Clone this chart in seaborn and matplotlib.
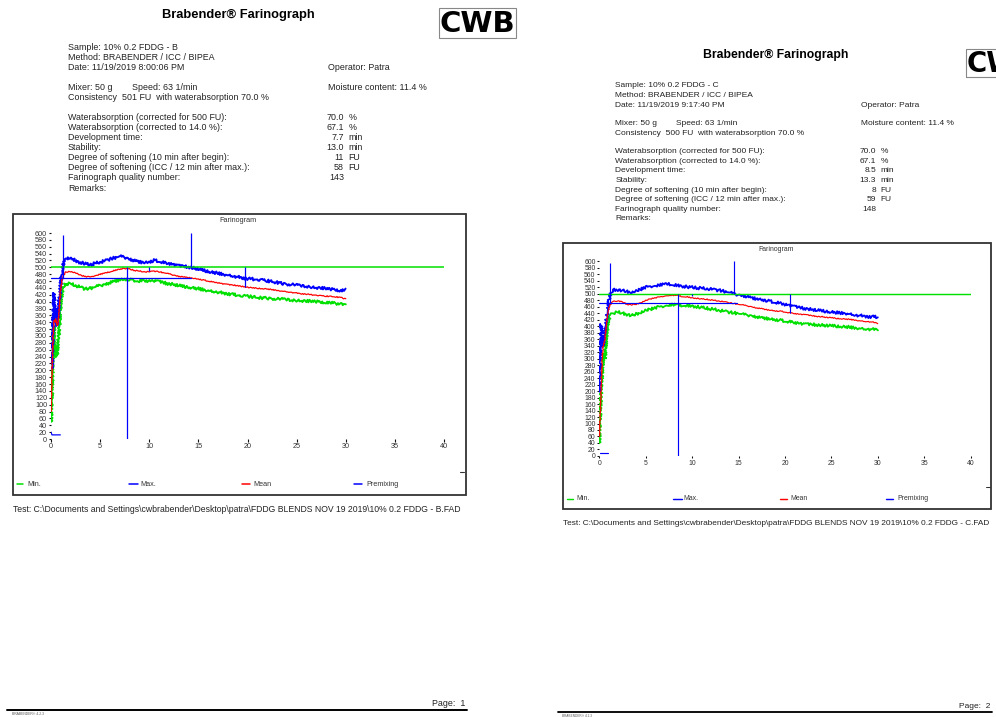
import matplotlib
matplotlib.use("Agg")
import matplotlib.pyplot as plt
import seaborn as sns
from matplotlib.patches import Rectangle
from matplotlib.lines import Line2D

sns.set_theme(style="white")
plt.rcParams['font.family'] = ['Liberation Sans', 'DejaVu Sans']

# ---------------------------------------------------------------- data
TIME = [0.0, 0.1, 0.2, 0.3, 0.4, 0.5, 0.6, 0.7, 0.8, 0.9, 1.0, 1.1, 1.2, 1.35, 1.5,
        2.0, 2.5, 3.0, 3.5, 4.0, 4.5, 5.0, 5.5, 6.0, 6.5, 7.0, 7.5, 8.0, 8.5, 9.0, 9.5,
        10.0, 10.5, 11.0, 11.5, 12.0, 12.5, 13.0, 13.5, 14.0, 14.5, 15.0, 15.5, 16.0,
        16.5, 17.0, 17.5, 18.0, 18.5, 19.0, 19.5, 20.0, 20.5, 21.0, 21.5, 22.0, 22.5,
        23.0, 23.5, 24.0, 24.5, 25.0, 25.5, 26.0, 26.5, 27.0, 27.5, 28.0, 28.5, 29.0,
        29.5, 30.0]

B_MAX = [205, 210, 330, 425, 350, 380, 330, 350, 400, 420, 455, 485, 505, 515, 522,
         530, 518, 514, 511, 507, 512, 515, 519, 524, 528, 532, 529, 524, 520, 516, 514,
         516, 520, 518, 513, 511, 508, 505, 503, 501, 498, 495, 491, 488,
         485, 483, 480, 478, 475, 472, 469, 467, 466, 464, 463, 461, 458,
         456, 453, 451, 450, 448, 446, 445, 443, 441, 440, 438, 436, 435,
         432, 434]
B_MEAN = [80, 190, 300, 345, 340, 350, 330, 335, 370, 410, 440, 460, 472, 480, 486,
          488, 484, 477, 473, 472, 476, 480, 483, 487, 491, 495, 497, 495, 491, 489, 487,
          487, 489, 487, 484, 481, 477, 474, 472, 470, 468, 466, 463, 460,
          457, 455, 452, 450, 448, 447, 444, 442, 440, 439, 438, 437, 435,
          433, 431, 429, 427, 425, 423, 422, 420, 419, 417, 416, 415, 414,
          412, 408]
B_MIN = [50, 130, 250, 330, 240, 270, 240, 280, 300, 350, 395, 425, 438, 448, 452,
         452, 447, 442, 437, 439, 443, 447, 450, 456, 460, 464, 466, 464, 462, 460, 461,
         460, 461, 459, 455, 452, 450, 447, 444, 442, 440, 438, 435, 433,
         430, 428, 425, 423, 421, 419, 417, 416, 414, 412, 411, 410, 409,
         408, 407, 406, 405, 404, 403, 402, 401, 400, 399, 398, 396, 395,
         393, 391]

C_MAX = [198, 300, 407, 380, 336, 360, 387, 410, 428, 450, 474, 490, 500, 508, 512,
         512, 510, 507, 504, 508, 514, 520, 523, 525, 527, 529, 530, 527, 525, 523, 521,
         520, 518, 517, 516, 514, 512, 510, 507, 504, 500, 496, 494, 491,
         487, 484, 482, 479, 476, 473, 470, 467, 464, 461, 458, 455, 453,
         451, 449, 447, 445, 444, 442, 441, 440, 438, 435, 433, 431, 429,
         429, 428]
C_MEAN = [60, 130, 203, 300, 336, 345, 356, 390, 418, 440, 453, 462, 467, 472, 476,
          478, 475, 467, 466, 468, 473, 479, 484, 487, 490, 493, 495, 495, 494, 491, 490,
          487, 486, 484, 483, 481, 479, 477, 475, 472, 470, 467, 465, 462,
          459, 456, 454, 451, 449, 447, 446, 444, 441, 439, 437, 436, 434,
          432, 430, 429, 427, 426, 424, 423, 422, 421, 419, 417, 415, 414,
          412, 409]
C_MIN = [40, 120, 200, 254, 290, 315, 300, 340, 377, 400, 418, 428, 433, 437, 440,
         445, 440, 436, 433, 438, 443, 448, 452, 456, 460, 463, 466, 466, 465, 464, 463,
         462, 460, 458, 456, 453, 451, 448, 446, 443, 441, 439, 436, 434,
         431, 429, 426, 424, 422, 420, 418, 416, 413, 411, 409, 407, 406,
         405, 404, 403, 402, 401, 400, 399, 398, 397, 395, 394, 392, 391,
         390, 391]

PREMIX_T = [[0.0, 0.1, 0.95], [0.05, 0.1, 0.97]]
PREMIX_FU = [[20, 12, 12], [8, 8, 8]]

SAMPLE = ["10% 0.2 FDDG - B", "10% 0.2 FDDG - C"]
DATE = ["11/19/2019 8:00:06 PM", "11/19/2019 9:17:40 PM"]
CONSISTENCY = [501, 500]
WATER_500 = [70.0, 70.0]
WATER_14 = [67.1, 67.1]
DEV_TIME = [7.7, 8.5]
STABILITY = [13.0, 13.3]
ARRIVAL = [1.2, 1.2]
SOFT_10 = [11, 8]
SOFT_ICC = [58, 59]
FQN = [143, 148]
TARGET_FU = 500
FQN_LEVEL = 470
FILES = [r"C:\Documents and Settings\cwbrabender\Desktop\patra\FDDG BLENDS NOV 19 2019\10% 0.2 FDDG - B.FAD",
         r"C:\Documents and Settings\cwbrabender\Desktop\patra\FDDG BLENDS NOV 19 2019\10% 0.2 FDDG - C.FAD"]
X_TICKS = [0, 5, 10, 15, 20, 25, 30, 35, 40]
Y_TICKS = list(range(0, 601, 20))
LEGEND = ["Min.", "Max.", "Mean", "Premixing"]

GREEN, BLUE, RED = "#00e000", "#0000ff", "#ff0000"

# ---------------------------------------------------------------- layout
W, H = 996, 717
fig = plt.figure(figsize=(W / 100, H / 100), dpi=100)
fig.patch.set_facecolor("white")

PAGES = [dict(ox=0.0, oy=0.0, s=1.0), dict(ox=551.1, oy=41.1, s=0.945)]


def fx(p, x):
    return (p["ox"] + p["s"] * x) / W


def fy(p, y):
    return 1 - (p["oy"] + p["s"] * y) / H


def txt(p, x, y, s, size, **kw):
    kw.setdefault("va", "center")
    fig.text(fx(p, x), fy(p, y), s, fontsize=size * p["s"], color=kw.pop("color", "#222222"), **kw)


def seg(p, x0, y0, x1, y1, **kw):
    fig.add_artist(Line2D([fx(p, x0), fx(p, x1)], [fy(p, y0), fy(p, y1)],
                          transform=fig.transFigure, **kw))


def box(p, x0, y0, x1, y1, **kw):
    fig.add_artist(Rectangle((fx(p, x0), fy(p, y1)), fx(p, x1) - fx(p, x0),
                             fy(p, y0) - fy(p, y1), transform=fig.transFigure,
                             fill=False, **kw))


BODY = 6.4
SMALL = 5.2

for i, p in enumerate(PAGES):
    s = p["s"]
    # header
    txt(p, 238, 15, "Brabender\u00ae Farinograph", 9.3, ha="center", weight="bold", color="black")
    box(p, 439, 8, 516, 38, ec="#888888", lw=0.8)
    logo = fig.text(fx(p, 477.5), fy(p, 24), "CWB", fontsize=21 * s, ha="center", va="center",
                    weight="heavy", color="black", family="DejaVu Sans")
    logo.set_clip_on(True)

    txt(p, 68, 47, "Sample: " + SAMPLE[i], BODY)
    txt(p, 68, 57.5, "Method: BRABENDER / ICC / BIPEA", BODY)
    txt(p, 68, 68, "Date: " + DATE[i], BODY)
    txt(p, 328, 68, "Operator: Patra", BODY)
    txt(p, 68, 87, "Mixer: 50 g", BODY)
    txt(p, 132, 87, "Speed: 63 1/min", BODY)
    txt(p, 328, 87, "Moisture content: 11.4 %", BODY)
    txt(p, 68, 97.5, f"Consistency  {CONSISTENCY[i]} FU  with waterabsorption {WATER_500[i]:.1f} %", BODY)

    rows = [("Waterabsorption (corrected for 500 FU):", f"{WATER_500[i]:.1f}", "%"),
            ("Waterabsorption (corrected to 14.0 %):", f"{WATER_14[i]:.1f}", "%"),
            ("Development time:", f"{DEV_TIME[i]:.1f}", "min"),
            ("Stability:", f"{STABILITY[i]:.1f}", "min"),
            ("Degree of softening (10 min after begin):", f"{SOFT_10[i]}", "FU"),
            ("Degree of softening (ICC / 12 min after max.):", f"{SOFT_ICC[i]}", "FU"),
            ("Farinograph quality number:", f"{FQN[i]}", ""),
            ("Remarks:", "", "")]
    for k, (lab, val, unit) in enumerate(rows):
        y = 117 + k * 10.15
        txt(p, 68, y, lab, BODY)
        if val:
            txt(p, 344, y, val, BODY, ha="right")
        if unit:
            txt(p, 348.5, y, unit, BODY)

    # farinogram frame
    box(p, 13, 214, 466, 495, ec="#333333", lw=1.3)
    txt(p, 238, 221, "Farinogram", SMALL, ha="center", color="#333333")

    ax = fig.add_axes([fx(p, 51), fy(p, 439), fx(p, 444) - fx(p, 51), fy(p, 233) - fy(p, 439)])
    ax.patch.set_alpha(0)
    for sp in ax.spines.values():
        sp.set_visible(False)

    curves = [(B_MIN, B_MAX, B_MEAN), (C_MIN, C_MAX, C_MEAN)][i]
    for vals, col, lw, sk in [(curves[0], GREEN, 1.4, 1.4), (curves[1], BLUE, 1.4, 1.4),
                              (curves[2], RED, 0.9, 0.5)]:
        sns.lineplot(x=TIME, y=vals, ax=ax, color=col, lw=lw * s, sort=False, estimator=None)
        ax.lines[-1].set_sketch_params(scale=sk, length=2.5, randomness=2)

    # evaluation marks
    ax.plot([0, 40], [TARGET_FU, TARGET_FU], color=GREEN, lw=1.1 * s)
    ax.plot([0, FQN[i] / 10], [FQN_LEVEL, FQN_LEVEL], color=BLUE, lw=0.9 * s)
    dep = ARRIVAL[i] + STABILITY[i]
    icc_t = DEV_TIME[i] + 12
    ax.vlines([ARRIVAL[i]], FQN_LEVEL, 595, color=BLUE, lw=0.9 * s)
    ax.vlines([DEV_TIME[i]], 0, TARGET_FU, color=BLUE, lw=0.9 * s)
    ax.vlines([dep], TARGET_FU, 600, color=BLUE, lw=0.9 * s)
    ax.vlines([icc_t], TARGET_FU - SOFT_ICC[i], TARGET_FU, color=BLUE, lw=0.9 * s)
    ax.vlines([10], TARGET_FU - SOFT_10[i], TARGET_FU, color=BLUE, lw=0.9 * s)
    ax.plot(PREMIX_T[i], PREMIX_FU[i], color=BLUE, lw=0.9 * s)

    ax.set_xlim(0, 40)
    ax.set_ylim(0, 600)
    ax.set_xticks(X_TICKS)
    ax.set_xticklabels([str(v) for v in X_TICKS])
    ax.set_yticks(Y_TICKS)
    ax.set_yticklabels([str(v) for v in Y_TICKS])
    ax.tick_params(axis="both", which="both", direction="out", length=1.8 * s, width=0.8 * s,
                   pad=1.0, labelsize=SMALL * s, colors="#111111", labelcolor="#333333",
                   left=True, bottom=True)
    ax.set_xlabel("")
    ax.set_ylabel("")

    # legend row
    for (x0, x1, tx), col, lab in zip([(17, 23, 27), (129, 138, 140), (242, 250, 253), (354, 362, 366)],
                                      [GREEN, BLUE, RED, BLUE], LEGEND):
        seg(p, x0, 484.3, x1, 484.3, color=col, lw=1.1 * s)
        txt(p, tx, 484.3, lab, SMALL, color="#333333")
    seg(p, 460, 471.7, 464, 471.7, color="#333333", lw=0.8 * s)

    txt(p, 13, 510, "Test: " + FILES[i], 6.25)

    # page footer
    txt(p, 465, 704, f"Page:  {i + 1}", BODY, ha="right")
    seg(p, 7, 709.5, 467, 709.5, color="black", lw=1.4 * s)
    txt(p, 12, 714, "BRABENDER\u00ae 4.2.3", 2.4, color="#555555")

fig.savefig("out.png", dpi=100, facecolor="white")
